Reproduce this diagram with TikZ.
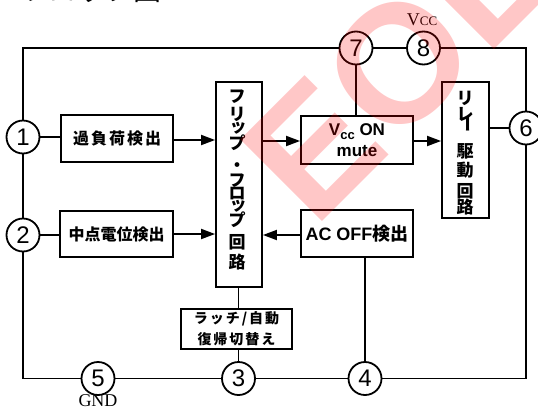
\documentclass[tikz,border=0pt]{standalone}
\usepackage{fontspec}
\setmainfont{Liberation Sans}
\newfontfamily\jp{Noto Sans CJK JP}
\newfontfamily\tnr{Liberation Serif}
\usetikzlibrary{arrows.meta}
\newcommand\jgap{\hspace{2pt}}
\begin{document}
\begin{tikzpicture}[x=1pt,y=-1pt,line width=1.8pt,
  box/.style={draw,fill=white,inner sep=0pt,align=center},
  pin/.style={draw,circle,fill=white,minimum size=33pt,inner sep=0pt,font=\fontsize{24}{24}\selectfont},
  arr/.style={-{Triangle[length=14pt,width=10pt]}},
  jlbl/.style={font=\jp\bfseries\fontsize{16}{20}\selectfont},
  vch/.style={font=\jp\bfseries\fontsize{17}{17}\selectfont,inner sep=0pt},
  title/.style={font=\jp\fontsize{28}{28}\selectfont,anchor=base,inner sep=0pt}]
\useasboundingbox (0,0) rectangle (538,410);

% title (cut off at the top)
\node[title] (t1) at (36,0.5) {ブ};
\node[title] (t2) at (62,0.5) {ロ};
\node[title] (t3) at (92,0.5) {ッ};
\node[title] (t4) at (119,0.5) {ク};
\node[title] (t5) at (147,0.5) {図};

% frame
\coordinate (TL) at (23,48);
\coordinate (TR) at (526,48);
\coordinate (BR) at (526,378.5);
\coordinate (BL) at (23,378.5);
\draw (TL) -- (TR) -- (BR) -- (BL) -- cycle;

% pins
\node[pin] (c1) at (23,137) {1};
\node[pin] (c2) at (23,235) {2};
\node[pin] (c5) at (98,378.5) {5};
\node[pin] (c3) at (238.5,378.5) {3};
\node[pin] (c4) at (365,378.5) {4};
\node[pin] (c7) at (356,48) {7};
\node[pin] (c8) at (423.5,48) {8};
\node[pin] (c6) at (526,128) {6};

\node[anchor=base,inner sep=0pt,font=\tnr\fontsize{18}{18}\selectfont] (vcclbl) at (422,25) {V{\fontsize{13}{13}\selectfont CC}};
\node[anchor=base,inner sep=0pt,font=\tnr\fontsize{18}{18}\selectfont] (gnd) at (98,406) {GND};

% boxes
\node[box,jlbl,minimum width=112pt,minimum height=47pt] (ovl) at (117,138.5) {過\jgap 負\jgap 荷\jgap 検\jgap 出};
\node[box,jlbl,minimum width=113pt,minimum height=46pt] (mid) at (116.5,234) {中点電位検出};
\node[box,minimum width=46pt,minimum height=205pt] (ff) at (239,184.5) {};
\node[box,minimum width=112pt,minimum height=48pt,font=\bfseries\fontsize{17}{21}\selectfont] (vcc) at (357,140)
  {V\raisebox{-4pt}{\fontsize{13}{13}\selectfont cc} ON\\mute};
\node[box,minimum width=112pt,minimum height=47pt,font=\bfseries\fontsize{18}{20}\selectfont] (acoff) at (357,233.5)
  {AC OFF{\jp\bfseries 検出}};
\node[box,minimum width=47pt,minimum height=136pt] (relay) at (465.5,150) {};
\node[box,minimum width=111pt,minimum height=40pt,font=\jp\bfseries\fontsize{14}{21}\selectfont] (latch) at (236.5,329)
  {ラ\jgap ッ\jgap チ\jgap /\jgap 自\jgap 動\\復\jgap 帰\jgap 切\jgap 替\jgap え};

% vertical text: flip-flop
\node[vch] (f1) at (237,97) {フ};
\node[vch] (f2) at (237,114) {リ};
\node[vch] (f3) at (238,128) {ッ};
\node[vch] (f4) at (237,143) {プ};
\node[vch] (f5) at (237,167) {・};
\node[vch] (f6) at (237,181) {フ};
\node[vch] (f7) at (237,194) {ロ};
\node[vch] (f8) at (238,206) {ッ};
\node[vch] (f9) at (237,220) {プ};
\node[vch] (f10) at (237,242) {回};
\node[vch] (f11) at (237,262) {路};

% vertical text: relay
\node[vch] (r1) at (465,98) {リ};
\node[vch] (r2) at (465,114) {レ};
\node[vch,rotate=-90] (r3) at (466,124) {ー};
\node[vch] (r4) at (465,151) {駆};
\node[vch] (r5) at (465,170) {動};
\node[vch] (r6) at (465,191) {回};
\node[vch] (r7) at (465,207) {路};

% connectors
\draw (c1) -- (ovl.west |- c1);
\draw (c2) -- (mid.west |- c2);
\draw[arr] (ovl.east |- 0,140) -- (ff.west |- 0,140);
\draw[arr] (mid.east |- 0,234) -- (ff.west |- 0,234);
\draw[arr] (ff.east |- 0,141) -- (vcc.west |- 0,141);
\draw[arr] (vcc.east |- 0,141) -- (relay.west |- 0,141);
\draw[arr] (acoff.west |- 0,235) -- (ff.east |- 0,235);
\draw (c7) -- (c7 |- vcc.north);
\draw (relay.east |- c6) -- (c6);
\draw (acoff.south -| c4) -- (c4);
\draw (ff.south -| c3) -- (latch.north -| c3);
\draw (latch.south -| c3) -- (c3);

% watermark
\node[rotate=45,anchor=base west,text=red,text opacity=0.22,inner sep=0pt,font=\bfseries\fontsize{168}{168}\selectfont] (wm) at (314,230) {EOL};
\end{tikzpicture}
\end{document}
